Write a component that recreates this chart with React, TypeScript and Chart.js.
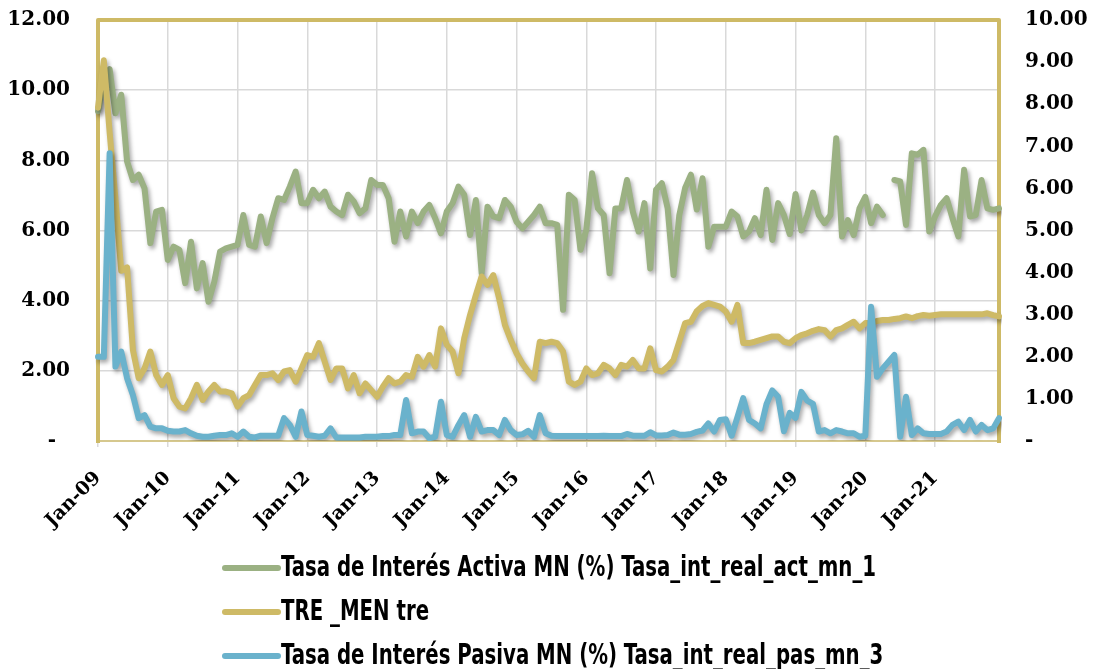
import React, { useEffect, useRef } from 'react';
import { Chart, registerables } from 'chart.js';

Chart.register(...registerables);

const YEARS = ['09', '10', '11', '12', '13', '14', '15', '16', '17', '18', '19', '20', '21'];
const MONTHS = ['Jan', 'Feb', 'Mar', 'Apr', 'May', 'Jun', 'Jul', 'Aug', 'Sep', 'Oct', 'Nov', 'Dec'];
const LABELS = YEARS.flatMap((y) => MONTHS.map((m) => `${m}-${y}`));

const SERIES_NAMES = [
  'Tasa de Interés Activa MN (%) Tasa_int_real_act_mn_1',
  'TRE _MEN tre',
  'Tasa de Interés Pasiva MN (%) Tasa_int_real_pas_mn_3',
];

// Tasa de Interés Activa MN (%)
const ACTIVA: (number | null)[] = [
  9.4, 10.3, 10.6, 9.34, 9.87, 7.97, 7.44, 7.59, 7.2, 5.64, 6.54, 6.59,
  5.16, 5.54, 5.45, 4.5, 5.68, 4.35, 5.07, 3.97, 4.54, 5.4, 5.49, 5.54,
  5.59, 6.44, 5.59, 5.54, 6.4, 5.64, 6.35, 6.92, 6.87, 7.25, 7.68, 6.78,
  6.78, 7.16, 6.92, 7.11, 6.68, 6.54, 6.44, 7.02, 6.83, 6.49, 6.63, 7.44,
  7.3, 7.3, 6.92, 5.68, 6.54, 5.83, 6.54, 6.21, 6.54, 6.73, 6.35, 5.92,
  6.54, 6.78, 7.25, 7.02, 5.87, 6.87, 4.78, 6.68, 6.4, 6.35, 6.87, 6.68,
  6.25, 6.06, 6.25, 6.44, 6.68, 6.21, 6.21, 6.16, 3.74, 7.02, 6.87, 5.45,
  6.02, 7.63, 6.63, 6.44, 4.78, 6.63, 6.63, 7.44, 6.54, 5.97, 6.78, 4.92,
  7.16, 7.35, 6.63, 4.73, 6.44, 7.21, 7.59, 6.6, 7.49, 5.54, 6.11, 6.11,
  6.11, 6.54, 6.4, 5.83, 5.97, 6.35, 5.87, 7.16, 5.73, 6.78, 6.44, 5.9,
  7.04, 6.0, 6.44, 7.08, 6.44, 6.21, 6.44, 8.63, 5.83, 6.3, 5.87, 6.63,
  6.96, 6.21, 6.68, 6.44, null, 7.44, 7.4, 6.16, 8.2, 8.16, 8.3, 5.97,
  6.4, 6.73, 6.92, 6.35, 5.83, 7.73, 6.4, 6.44, 7.44, 6.63, 6.59, 6.63,
];

// TRE _MEN tre
const TRE: number[] = [
  9.5, 10.85, 8.8, 6.9, 4.85, 4.95, 2.6, 1.79, 2.07, 2.55, 1.88, 1.6,
  1.88, 1.22, 0.98, 0.93, 1.22, 1.6, 1.17, 1.41, 1.6, 1.41, 1.41, 1.36,
  0.98, 1.22, 1.31, 1.6, 1.88, 1.88, 1.93, 1.74, 1.98, 2.02, 1.69, 2.07,
  2.45, 2.4, 2.79, 2.26, 1.74, 2.07, 2.07, 1.5, 1.88, 1.36, 1.64, 1.45,
  1.26, 1.55, 1.79, 1.64, 1.69, 1.88, 1.83, 2.4, 2.12, 2.45, 2.12, 3.21,
  2.74, 2.55, 1.93, 2.93, 3.59, 4.16, 4.69, 4.45, 4.73, 4.07, 3.31, 2.88,
  2.5, 2.21, 1.98, 1.79, 2.83, 2.79, 2.83, 2.79, 2.55, 1.69, 1.6, 1.69,
  2.07, 1.88, 1.93, 2.17, 2.07, 1.88, 2.17, 2.12, 2.31, 2.07, 2.07, 2.64,
  2.02, 1.98, 2.12, 2.31, 2.83, 3.36, 3.4, 3.7, 3.85, 3.93, 3.88, 3.83,
  3.69, 3.4, 3.88, 2.79, 2.79, 2.83, 2.88, 2.93, 2.98, 2.98, 2.83, 2.79,
  2.93, 3.02, 3.07, 3.14, 3.19, 3.16, 2.98, 3.16, 3.21, 3.31, 3.4, 3.21,
  3.36, 3.36, 3.42, 3.45, 3.45, 3.48, 3.5, 3.55, 3.5, 3.56, 3.59, 3.57,
  3.59, 3.61, 3.61, 3.61, 3.61, 3.61, 3.61, 3.61, 3.61, 3.64, 3.59, 3.55,
];

// Tasa de Interés Pasiva MN (%)
const PASIVA: number[] = [
  2.4, 2.4, 8.2, 2.12, 2.55, 1.79, 1.31, 0.65, 0.74, 0.41, 0.36, 0.36,
  0.29, 0.27, 0.27, 0.31, 0.22, 0.15, 0.12, 0.12, 0.15, 0.17, 0.17, 0.22,
  0.12, 0.27, 0.12, 0.1, 0.15, 0.15, 0.15, 0.15, 0.65, 0.46, 0.12, 0.84,
  0.17, 0.15, 0.12, 0.15, 0.36, 0.1, 0.1, 0.1, 0.1, 0.1, 0.12, 0.12,
  0.12, 0.14, 0.14, 0.17, 0.17, 1.17, 0.22, 0.27, 0.27, 0.08, 0.12, 1.12,
  0.17, 0.12, 0.45, 0.74, 0.12, 0.69, 0.27, 0.31, 0.31, 0.17, 0.6, 0.31,
  0.17, 0.19, 0.29, 0.12, 0.74, 0.22, 0.15, 0.14, 0.14, 0.14, 0.14, 0.14,
  0.14, 0.14, 0.14, 0.15, 0.14, 0.14, 0.14, 0.2, 0.15, 0.15, 0.15, 0.25,
  0.16, 0.16, 0.17, 0.24, 0.18, 0.18, 0.2, 0.26, 0.3, 0.5, 0.27, 0.6,
  0.62, 0.15, 0.68, 1.22, 0.6, 0.5, 0.36, 1.05, 1.44, 1.26, 0.28, 0.8,
  0.66, 1.4, 1.15, 1.06, 0.27, 0.31, 0.22, 0.31, 0.27, 0.22, 0.22, 0.12,
  0.15, 3.83, 1.83, 2.07, 2.26, 2.45, 0.12, 1.26, 0.17, 0.36, 0.22, 0.2,
  0.2, 0.2, 0.27, 0.46, 0.55, 0.31, 0.6, 0.27, 0.46, 0.31, 0.36, 0.65,
];

const LEFT_TICKS = [0, 2, 4, 6, 8, 10, 12];
const RIGHT_TICKS = [0, 1, 2, 3, 4, 5, 6, 7, 8, 9, 10];

const GREEN = '#9BB183';
const GOLD = '#CEBA66';
const BLUE = '#6AB2CC';
const COLORS = [GREEN, GOLD, BLUE];

const TICK_FONT = { family: '"DejaVu Serif", serif', size: 20, weight: 'bold' as const };
const X_TICK_FONT = { family: '"DejaVu Serif", serif', size: 19, weight: 'bold' as const };

const shadowPlugin = {
  id: 'lineShadow',
  beforeDatasetDraw(chart: any) {
    const ctx = chart.ctx;
    ctx.save();
    ctx.shadowColor = 'rgba(0,0,0,0.35)';
    ctx.shadowBlur = 4;
    ctx.shadowOffsetX = 2;
    ctx.shadowOffsetY = 3;
  },
  afterDatasetDraw(chart: any) {
    chart.ctx.restore();
  },
};

const framePlugin = {
  id: 'frame',
  beforeDatasetsDraw(chart: any) {
    const { ctx, chartArea: a } = chart;
    ctx.save();
    ctx.lineCap = 'butt';
    ctx.strokeStyle = '#D6C88E';
    ctx.lineWidth = 2;
    ctx.beginPath();
    ctx.moveTo(a.left, a.bottom);
    ctx.lineTo(a.right, a.bottom);
    ctx.stroke();
    ctx.strokeStyle = GOLD;
    ctx.lineWidth = 4;
    ctx.lineJoin = 'round';
    ctx.beginPath();
    ctx.moveTo(a.left, a.bottom + 2);
    ctx.lineTo(a.left, a.top);
    ctx.lineTo(a.right, a.top);
    ctx.lineTo(a.right, a.bottom + 2);
    ctx.stroke();
    ctx.restore();
  },
};

const legendPlugin = {
  id: 'vertLegend',
  afterDraw(chart: any) {
    const ctx = chart.ctx;
    ctx.save();
    ctx.font = 'bold 28px "Liberation Sans Narrow", "DejaVu Sans Condensed", "Liberation Sans", sans-serif';
    const w0 = ctx.measureText(SERIES_NAMES[0]).width;
    const sx = 595 / w0;
    const ys = [568, 612, 656];
    SERIES_NAMES.forEach((name, i) => {
      const y = ys[i];
      ctx.strokeStyle = COLORS[i];
      ctx.lineWidth = 6;
      ctx.lineCap = 'round';
      ctx.beginPath();
      ctx.moveTo(225, y);
      ctx.lineTo(278, y);
      ctx.stroke();
      ctx.fillStyle = '#000';
      ctx.textBaseline = 'middle';
      ctx.textAlign = 'left';
      ctx.save();
      ctx.translate(281, y + 1);
      ctx.scale(sx, 1);
      ctx.fillText(name, 0, 0);
      ctx.restore();
    });
    ctx.restore();
  },
};

export default function App() {
  const ref = useRef<HTMLCanvasElement | null>(null);

  useEffect(() => {
    if (!ref.current) return;
    const mk = (label: string, data: (number | null)[], color: string, order: number) => ({
      label,
      data,
      borderColor: color,
      backgroundColor: color,
      borderWidth: 6,
      pointRadius: 0,
      pointHoverRadius: 0,
      tension: 0,
      borderJoinStyle: 'round' as const,
      borderCapStyle: 'round' as const,
      spanGaps: false,
      order,
      yAxisID: 'y',
    });
    const chart = new Chart(ref.current, {
      type: 'line',
      data: {
        labels: LABELS,
        datasets: [
          mk(SERIES_NAMES[0], ACTIVA, GREEN, 3),
          mk(SERIES_NAMES[1], TRE, GOLD, 2),
          mk(SERIES_NAMES[2], PASIVA, BLUE, 1),
        ],
      },
      options: {
        animation: false,
        responsive: true,
        maintainAspectRatio: false,
        layout: { padding: { top: 20, bottom: 138, left: 0, right: 0 } },
        plugins: {
          legend: { display: false },
          tooltip: { enabled: false },
        },
        scales: {
          x: {
            type: 'category',
            offset: false,
            grid: {
              color: '#D9D9D9',
              lineWidth: 1.5,
              drawTicks: true,
              tickLength: 6,
              tickColor: '#D9D9D9',
            },
            border: { display: false },
            ticks: {
              autoSkip: false,
              maxRotation: 45,
              minRotation: 45,
              padding: 20,
              color: '#000',
              font: X_TICK_FONT,
              callback: (_v: any, idx: number) => (idx % 12 === 0 ? LABELS[idx] : null),
            },
            afterFit: (s: any) => {
              s.height = 90;
            },
          },
          y: {
            position: 'left',
            min: 0,
            max: 12,
            afterBuildTicks: (s: any) => {
              s.ticks = LEFT_TICKS.map((v) => ({ value: v }));
            },
            grid: {
              color: '#D9D9D9',
              lineWidth: 1.5,
              drawTicks: true,
              tickLength: 24,
              tickColor: 'rgba(0,0,0,0)',
            },
            border: { display: false },
            ticks: {
              padding: 4,
              color: '#000',
              font: TICK_FONT,
              callback: (v: any) => (Number(v) === 0 ? '-  ' : Number(v).toFixed(2)),
            },
            afterFit: (s: any) => {
              s.width = 98;
            },
          },
          y1: {
            position: 'right',
            min: 0,
            max: 10,
            afterBuildTicks: (s: any) => {
              s.ticks = RIGHT_TICKS.map((v) => ({ value: v }));
            },
            grid: {
              display: true,
              drawOnChartArea: false,
              drawTicks: true,
              tickLength: 22,
              color: 'rgba(0,0,0,0)',
              tickColor: 'rgba(0,0,0,0)',
            },
            border: { display: false },
            ticks: {
              padding: 4,
              color: '#000',
              font: TICK_FONT,
              callback: (v: any) => (Number(v) === 0 ? '-' : Number(v).toFixed(2)),
            },
            afterFit: (s: any) => {
              s.width = 96;
            },
          },
        },
      },
      plugins: [shadowPlugin, framePlugin, legendPlugin],
    });
    return () => chart.destroy();
  }, []);

  return (
    <div style={{ position: 'absolute', left: 0, top: 0, width: 1095, height: 669, background: '#fff' }}>
      <canvas ref={ref} />
    </div>
  );
}
